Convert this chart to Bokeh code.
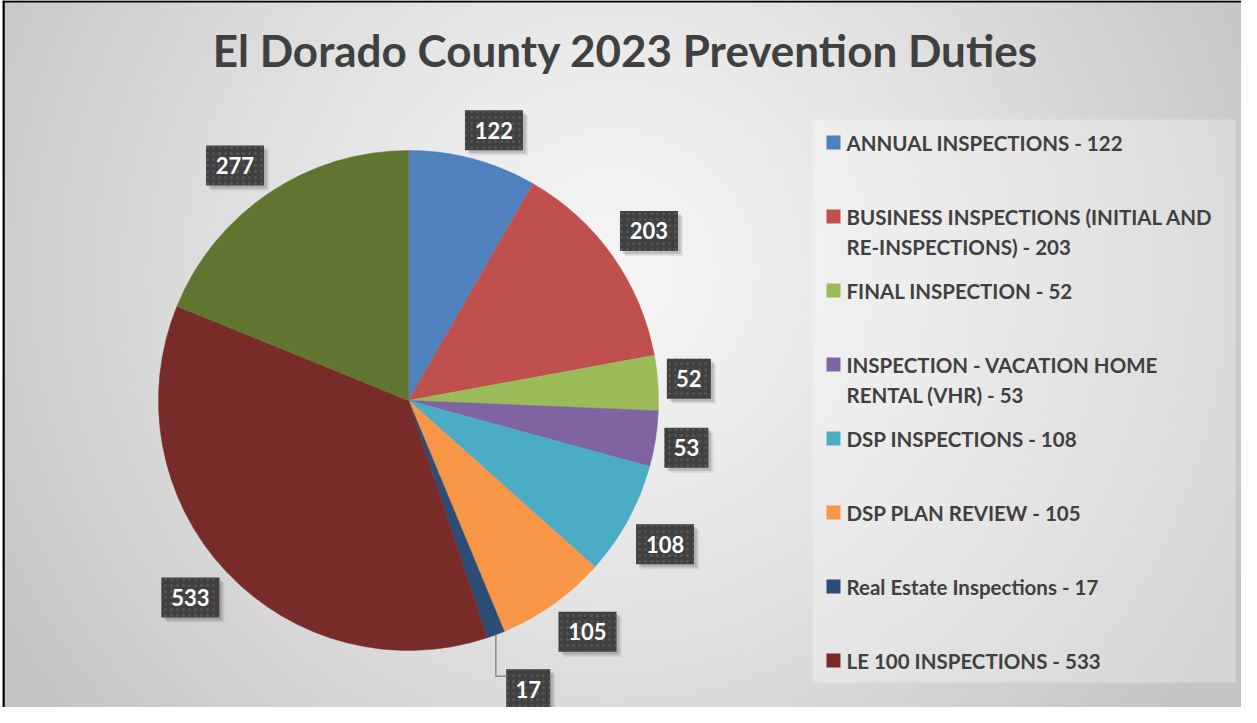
import numpy as np
from bokeh.plotting import figure
from bokeh.models import Range1d, ColumnDataSource
from bokeh.embed import file_html
from bokeh.resources import INLINE
from bokeh.core.properties import value

# ---------------- data ----------------
title = "El Dorado County 2023 Prevention Duties"
categories = [
    "ANNUAL INSPECTIONS",
    "BUSINESS INSPECTIONS (INITIAL AND RE-INSPECTIONS)",
    "FINAL INSPECTION",
    "INSPECTION - VACATION HOME RENTAL (VHR)",
    "DSP INSPECTIONS",
    "DSP PLAN REVIEW",
    "Real Estate Inspections",
    "LE 100 INSPECTIONS",
    "OTHER",
]
values = [122, 203, 52, 53, 108, 105, 17, 533, 277]
colors = ["#4F81BD", "#C0504D", "#9BBB59", "#8064A2", "#4BACC6",
          "#F79646", "#2C4D75", "#772C2A", "#5F7530"]
legend_count = 8  # the last slice has no legend entry in the source

# ---------------- layout helpers (pixel-like data units) ----------------
FW, FH = 1241, 707
W, H = FW - 2, FH


def X(px):
    return px - 10


def Y(py):
    return 715 - py


p = figure(width=FW, height=FH, x_range=Range1d(0, W), y_range=Range1d(0, H),
           x_axis_type=None, y_axis_type=None, output_backend="svg",
           toolbar_location=None, min_border_left=2, min_border_right=0,
           min_border_top=0, min_border_bottom=0)
p.outline_line_color = None
p.border_fill_color = "white"
p.background_fill_color = "#dcdcdc"
p.grid.visible = False

# background radial gradient
ny, nx = 354, 620
xs = np.linspace(0, W, nx)
ys = np.linspace(0, H, ny)
XX, YY = np.meshgrid(xs, ys)
gcx, gcy = X(620), Y(280)
d = np.hypot(XX - gcx, YY - gcy)
t = np.clip(d / 720.0, 0, 1) ** 1.3
v = (245 - 49 * t).astype(np.uint8)
img = np.empty((ny, nx), dtype=np.uint32)
view = img.view(dtype=np.uint8).reshape((ny, nx, 4))
view[..., 0] = v
view[..., 1] = v
view[..., 2] = v
view[..., 3] = 255
p.image_rgba(image=[img], x=0, y=0, dw=W, dh=H)

# frame lines (left & top)
p.line(x=[1, 1], y=[0, H], line_color="black", line_width=2.5)
p.line(x=[0, W], y=[H - 1, H - 1], line_color="black", line_width=2)

# title
p.text(x=[X(633)], y=[Y(57)], text=[title], text_align="center",
       text_baseline="middle", text_font=value("Lato"),
       text_font_style="bold", text_font_size="44px", text_color="#404040")

# ---------------- pie ----------------
cx, cy, r = X(416), Y(408), 250
vals = np.array(values, dtype=float)
total = vals.sum()
cum = np.concatenate([[0], np.cumsum(vals)])
start = np.pi / 2 - 2 * np.pi * cum[:-1] / total
end = np.pi / 2 - 2 * np.pi * cum[1:] / total
src = ColumnDataSource(dict(start=start, end=end, color=colors))
p.wedge(x=cx, y=cy, radius=r, start_angle="start", end_angle="end",
        direction="clock", fill_color="color", line_color="color",
        line_width=0.5, source=src)

# ---------------- data labels (outside end) ----------------
label_nudge = {6: (10, -26)}
gap, k = 9, 2.5
mid = (start + end) / 2
lx, ly, bw, bh, txt = [], [], [], [], []
for i, val in enumerate(values):
    s = str(val)
    w = 16 + 14 * len(s)
    h = 40
    ca, sa = np.cos(mid[i]), np.sin(mid[i])
    x0 = cx + (r + gap) * ca + (w / 2) * np.clip(k * ca, -1, 1)
    y0 = cy + (r + gap) * sa + (h / 2) * np.clip(k * sa, -1, 1)
    dx, dy = label_nudge.get(i, (0, 0))
    lx.append(x0 + dx)
    ly.append(y0 + dy)
    bw.append(w)
    bh.append(h)
    txt.append(s)

# leader line for nudged label
for i in label_nudge:
    ax = cx + r * np.cos(mid[i])
    ay = cy + r * np.sin(mid[i])
    ey = ly[i] + 13
    p.line(x=[ax, ax, lx[i] - bw[i] / 2], y=[ay, ey, ey],
           line_color="#8a8a8a", line_width=1.5)

lsrc = ColumnDataSource(dict(x=lx, y=ly, w=bw, h=bh, t=txt,
                             xs1=[a + 3 for a in lx], ys1=[b - 3 for b in ly],
                             xs2=[a + 5 for a in lx], ys2=[b - 5 for b in ly]))
p.rect(x="xs2", y="ys2", width="w", height="h", fill_color="black",
       fill_alpha=0.08, line_color=None, source=lsrc)
p.rect(x="xs1", y="ys1", width="w", height="h", fill_color="black",
       fill_alpha=0.15, line_color=None, source=lsrc)
p.rect(x="x", y="y", width="w", height="h", fill_color="#404040",
       line_color=None, hatch_pattern="dot", hatch_color="#555555",
       hatch_scale=6, hatch_weight=1, source=lsrc)
p.text(x="x", y="y", text="t", text_align="center", text_baseline="middle",
       text_font=value("Lato"), text_font_style="bold",
       text_font_size="22px", text_color="white", source=lsrc)

# ---------------- legend ----------------
p.quad(left=X(820), right=X(1243), top=Y(127), bottom=Y(690),
       fill_color="white", fill_alpha=0.3, line_color=None)

sq_x, sq_y, sq_c = [], [], []
tx, ty, tt = [], [], []
for i in range(legend_count):
    full = f"{categories[i]} - {values[i]}"
    words = full.split(" ")
    lines = [full] if len(full) <= 30 else [" ".join(words[:4]), " ".join(words[4:])]
    yc = 150 + 74 * i
    sq_x.append(X(841))
    sq_y.append(Y(yc))
    sq_c.append(colors[i])
    for j, ln in enumerate(lines):
        tx.append(X(854))
        ty.append(Y(yc + 30 * j))
        tt.append(ln)

p.rect(x=sq_x, y=sq_y, width=14, height=14, fill_color=sq_c, line_color=None)
p.text(x=tx, y=ty, text=tt, text_align="left", text_baseline="middle",
       text_font=value("Lato"), text_font_style="bold",
       text_font_size="20.5px", text_color="#404040")

open("out.html", "w").write(file_html(p, INLINE))
